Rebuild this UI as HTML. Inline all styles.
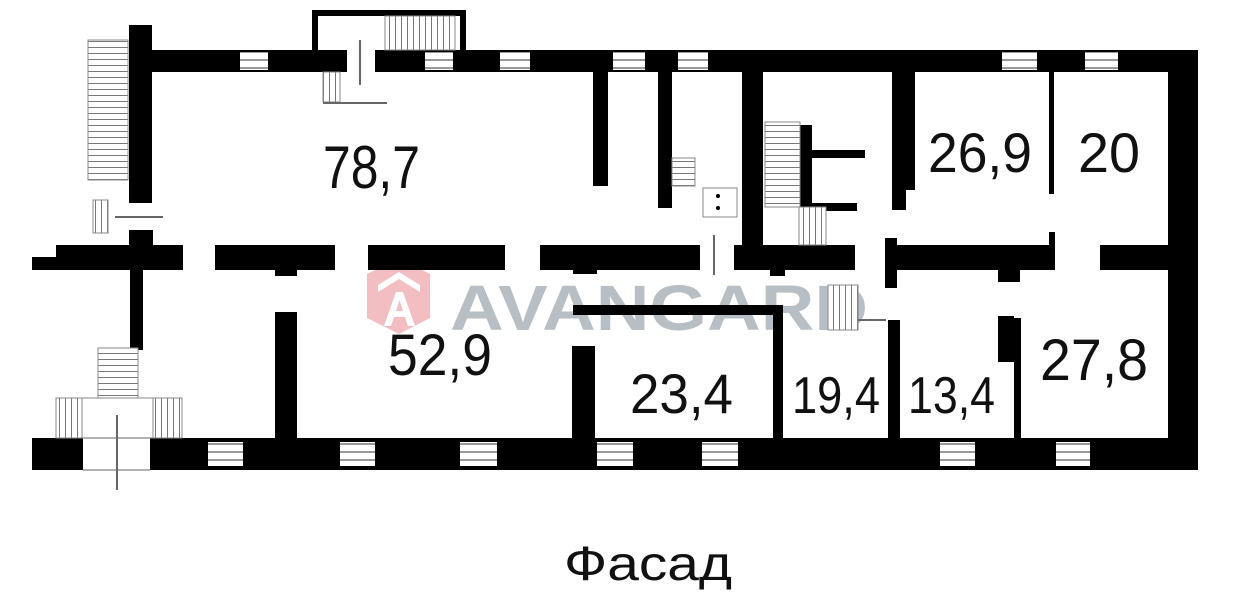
<!DOCTYPE html>
<html><head><meta charset="utf-8"><style>
html,body{margin:0;padding:0;background:#fff;width:1235px;height:600px;overflow:hidden}
svg{display:block}
</style></head><body>
<svg width="1235" height="600" viewBox="0 0 1235 600" xmlns="http://www.w3.org/2000/svg">
<defs>
<pattern id="hs" width="6" height="6" patternUnits="userSpaceOnUse"><rect width="6" height="6" fill="#fff"/><rect y="5" width="6" height="1" fill="#777"/></pattern>
<pattern id="vs" width="6" height="6" patternUnits="userSpaceOnUse"><rect width="6" height="6" fill="#fff"/><rect x="5" width="1" height="6" fill="#777"/></pattern>
<pattern id="win" width="6" height="8" patternUnits="userSpaceOnUse"><rect width="6" height="8" fill="#fff"/><rect y="3" width="6" height="2" fill="#999"/></pattern>
</defs>
<rect width="1235" height="600" fill="#fff"/>
<!-- watermark -->
<g opacity="0.55">
<polygon points="399,258 430,274 430,318 399,334 367,318 367,274" fill="#e88a92"/>
<path d="M378 285 L399 272 L420 285 L420 292 L399 279 L378 292Z" fill="#fff"/>
<path d="M384 326 L396 292 L403 292 L415 326 L408 326 L405 317 L394 317 L391 326Z M396 311 L403 311 L399.5 300Z" fill="#fff"/>
<text x="450" y="330" font-family="Liberation Sans, sans-serif" font-weight="bold" font-size="64" fill="#7d8995" textLength="418" lengthAdjust="spacingAndGlyphs">AVANGARD</text>
</g>
<g fill="#000">
<rect x="312" y="10" width="154" height="6"/>
<rect x="312" y="10" width="6" height="40"/>
<rect x="460" y="10" width="6" height="40"/>
<rect x="152" y="50" width="195" height="22"/>
<rect x="375" y="50" width="823" height="22"/>
<rect x="129" y="25" width="23" height="178"/>
<rect x="129" y="230" width="24" height="20"/>
<rect x="1168" y="50" width="30" height="420"/>
<rect x="56" y="245" width="127" height="25"/>
<rect x="32" y="257" width="30" height="13"/>
<rect x="215" y="245" width="120" height="25"/>
<rect x="275" y="268" width="22" height="8"/>
<rect x="368" y="245" width="137" height="25"/>
<rect x="540" y="245" width="160" height="25"/>
<rect x="573" y="268" width="24" height="6"/>
<rect x="734" y="245" width="121" height="25"/>
<rect x="770" y="268" width="15" height="8"/>
<rect x="885" y="245" width="170" height="25"/>
<rect x="885" y="238" width="12" height="50"/>
<rect x="998" y="268" width="22" height="14"/>
<rect x="1049" y="232" width="6" height="20"/>
<rect x="1100" y="245" width="70" height="25"/>
<rect x="593" y="72" width="15" height="114"/>
<rect x="658" y="72" width="14" height="136"/>
<rect x="742" y="72" width="21" height="175"/>
<rect x="892" y="72" width="23" height="118"/>
<rect x="892" y="190" width="14" height="20"/>
<rect x="1049" y="72" width="5" height="122"/>
<rect x="800" y="125" width="12" height="90"/>
<rect x="800" y="150" width="65" height="8"/>
<rect x="800" y="203" width="57" height="8"/>
<rect x="32" y="438" width="51" height="32"/>
<rect x="150" y="438" width="1048" height="32"/>
<rect x="130" y="270" width="13" height="80"/>
<rect x="275" y="312" width="22" height="126"/>
<rect x="572" y="346" width="23" height="92"/>
<rect x="573" y="305" width="210" height="10"/>
<rect x="773" y="305" width="10" height="133"/>
<rect x="888" y="320" width="12" height="118"/>
<rect x="1014" y="318" width="7" height="120"/>
<rect x="998" y="316" width="16" height="46"/>
</g>
<g fill="url(#win)">
<rect x="240" y="52" width="28" height="18"/>
<rect x="425" y="52" width="28" height="18"/>
<rect x="500" y="52" width="30" height="18"/>
<rect x="613" y="52" width="32" height="18"/>
<rect x="678" y="52" width="30" height="18"/>
<rect x="1002" y="52" width="35" height="18"/>
<rect x="1085" y="52" width="33" height="18"/>
<rect x="208" y="442" width="35" height="24"/>
<rect x="340" y="442" width="35" height="24"/>
<rect x="460" y="442" width="37" height="24"/>
<rect x="597" y="442" width="36" height="24"/>
<rect x="702" y="442" width="36" height="24"/>
<rect x="940" y="442" width="35" height="24"/>
<rect x="1056" y="442" width="34" height="24"/>
</g>
<g stroke="#888" stroke-width="1">
<rect x="88" y="40" width="40" height="140" fill="url(#hs)"/>
<rect x="93" y="200" width="15" height="33" fill="url(#vs)"/>
<rect x="385" y="16" width="70" height="34" fill="url(#vs)"/>
<rect x="323" y="72" width="17" height="30" fill="url(#vs)"/>
<rect x="765" y="122" width="35" height="85" fill="url(#hs)"/>
<rect x="799" y="207" width="27" height="38" fill="url(#vs)"/>
<rect x="672" y="158" width="23" height="28" fill="url(#hs)"/>
<rect x="703" y="188" width="34" height="29" fill="#fff"/>
<rect x="828" y="285" width="30" height="45" fill="url(#vs)"/>
<rect x="98" y="348" width="40" height="50" fill="url(#hs)"/>
<rect x="56" y="398" width="26" height="40" fill="url(#vs)"/>
<rect x="153" y="398" width="29" height="40" fill="url(#vs)"/>
<rect x="82" y="398" width="71" height="40" fill="none"/>
</g>
<g stroke="#666" stroke-width="2" fill="none">
<line x1="360" y1="40" x2="360" y2="85"/>
<line x1="323" y1="103" x2="387" y2="103"/>
<line x1="115" y1="217" x2="163" y2="217"/>
<line x1="714" y1="235" x2="714" y2="275"/>
<line x1="858" y1="320" x2="886" y2="320"/>
<line x1="117" y1="415" x2="117" y2="490"/>
<line x1="83" y1="438" x2="150" y2="438" stroke-width="1"/>
<line x1="83" y1="470" x2="150" y2="470" stroke-width="1"/>
</g>
<circle cx="718" cy="196" r="2" fill="#000"/><circle cx="718" cy="208" r="2" fill="#000"/>
<g font-family="Liberation Sans Narrow, Liberation Sans, sans-serif" fill="#111">
<text x="323" y="188" font-size="60" textLength="97" lengthAdjust="spacingAndGlyphs">78,7</text>
<text x="928" y="172" font-size="56" textLength="104" lengthAdjust="spacingAndGlyphs">26,9</text>
<text x="1078" y="172" font-size="56" textLength="62" lengthAdjust="spacingAndGlyphs">20</text>
<text x="388" y="375" font-size="58" textLength="104" lengthAdjust="spacingAndGlyphs">52,9</text>
<text x="630" y="413" font-size="56" textLength="103" lengthAdjust="spacingAndGlyphs">23,4</text>
<text x="792" y="413" font-size="52" textLength="88" lengthAdjust="spacingAndGlyphs">19,4</text>
<text x="908" y="413" font-size="52" textLength="87" lengthAdjust="spacingAndGlyphs">13,4</text>
<text x="1040" y="380" font-size="58" textLength="108" lengthAdjust="spacingAndGlyphs">27,8</text>
</g>
<text x="564" y="580" font-family="Liberation Sans, sans-serif" font-size="48" fill="#111" textLength="168" lengthAdjust="spacingAndGlyphs">Фасад</text>
</svg>
</body></html>
